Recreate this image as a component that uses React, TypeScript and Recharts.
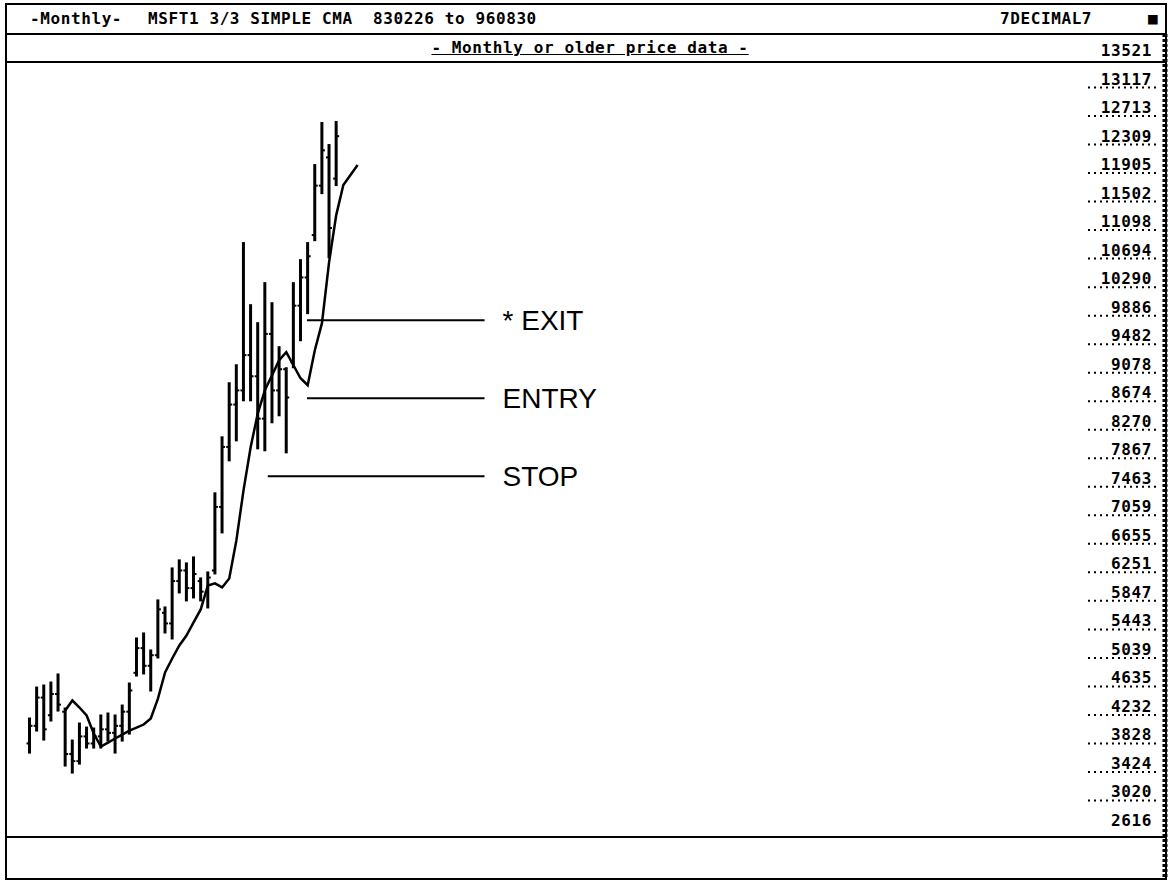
import React from 'react'
import { ComposedChart, Bar, Line, XAxis, YAxis, ReferenceLine } from 'recharts'

// monthly bars, index = month number on the chart
const highs = [
  4053, 4492, 4521, 4563, 4677, 4195, 3741, 3982, 3925, 3911, 4096, 4124, 4096, 4237, 4549,
  5187, 5258, 5017, 5726, 5626, 6179, 6293, 6250, 6335, 6037, 6122, 7242, 8036, 8801, 9056,
  10786, 9907, 9652, 10219, 9935, 9312, 9014, 10219, 10545, 10786, 11891, 12487, 12175, 12501,
]
const lows = [
  3571, 3883, 3755, 4025, 4166, 3387, 3288, 3415, 3642, 3642, 3642, 3741, 3571, 3741, 3840,
  4662, 4691, 4450, 4918, 5272, 5187, 5839, 5726, 5768, 5726, 5626, 6108, 6689, 7710, 7993,
  8560, 8560, 7880, 7852, 8249, 8348, 7823, 9028, 9411, 9794, 10828, 11494, 10587, 11608,
]
const opens = [
  3700, 3950, 4350, 4100, 4400, 4150, 3550, 3450, 3800, 3700, 3800, 3900, 3850, 3950, 4150,
  4700, 5050, 4800, 4950, 5550, 5400, 6000, 6150, 5900, 6000, 5850, 6150, 7050, 7900, 8500,
  8700, 9200, 8900, 8300, 9500, 8700, 9000, 9100, 9900, 10300, 10900, 11600, 12000, 11700,
]
const closes = [
  3950, 4350, 3900, 4400, 4250, 3550, 3450, 3800, 3700, 3800, 3900, 3850, 3950, 4150, 4450,
  5050, 4800, 4950, 5600, 5400, 6000, 6150, 5900, 6100, 5850, 6050, 7050, 7900, 8500, 8700,
  9200, 8900, 8300, 9500, 8700, 9000, 8600, 9900, 10300, 10600, 11600, 12100, 11000, 12300,
]
// 3/3 simple moving average (displaced 3 months forward)
const movingAvg: (number | null)[] = [
  null, null, null, null, null, 4166, 4308, 4209, 4096, 3840, 3656, 3713, 3770, 3826, 3883,
  3925, 3968, 4053, 4336, 4705, 4903, 5088, 5229, 5414, 5598, 5938, 5967, 5910, 6037, 6576,
  7285, 7894, 8376, 8702, 8915, 9127, 9241, 9056, 8872, 8773, 9269, 9652, 10516, 11183, 11608,
  11750, 11891,
]
const yTicks = [
  13521, 13117, 12713, 12309, 11905, 11502, 11098, 10694, 10290, 9886, 9482, 9078, 8674, 8270,
  7867, 7463, 7059, 6655, 6251, 5847, 5443, 5039, 4635, 4232, 3828, 3424, 3020, 2616,
]
const Y_MIN = 2616
const Y_MAX = 13521

const EXIT_LEVEL = 9694
const ENTRY_LEVEL = 8589
const STOP_LEVEL = 7483

const data = movingAvg.map((ma, i) => ({
  month: i,
  range: i < highs.length ? [lows[i], highs[i]] : null,
  open: opens[i],
  close: closes[i],
  ma,
}))

const OhlcShape = (props: any) => {
  const { x, y, width, height, payload } = props
  if (!payload || payload.range == null) return null
  const [lo, hi] = payload.range
  const cx = x + width / 2
  const toY = (v: number) => y + ((hi - v) / (hi - lo || 1)) * height
  return (
    <g stroke="#000" strokeWidth={3}>
      <line x1={cx} y1={y - 1} x2={cx} y2={y + height + 1} />
      <line x1={cx - 3} y1={toY(payload.open)} x2={cx} y2={toY(payload.open)} strokeWidth={2} />
      <line x1={cx} y1={toY(payload.close)} x2={cx + 3} y2={toY(payload.close)} strokeWidth={2} />
    </g>
  )
}

const PriceTick = (props: any) => {
  const { x, y, payload } = props
  const edge = payload.value === Y_MAX || payload.value === Y_MIN
  return (
    <g>
      {!edge && (
        <line x1={x - 2} y1={y + 9} x2={x + 66} y2={y + 9} stroke="#000" strokeWidth={2} strokeDasharray="2 4" />
      )}
      <text
        x={x + 62}
        y={y + 6}
        textAnchor="end"
        fontFamily="DejaVu Sans Mono"
        fontWeight="bold"
        fontSize={16}
        letterSpacing={0.6}
        fill="#000"
      >
        {payload.value}
      </text>
    </g>
  )
}

const mono: React.CSSProperties = {
  position: 'absolute',
  fontFamily: 'DejaVu Sans Mono',
  fontWeight: 'bold',
  fontSize: 16,
  letterSpacing: 0.6,
  lineHeight: '20px',
  whiteSpace: 'pre',
  color: '#000',
}

const annoLabel = (value: string) => ({
  value,
  position: 'right' as const,
  offset: 18,
  fill: '#000',
  fontSize: 28,
  fontFamily: 'Liberation Sans',
})

export default function App() {
  return (
    <div style={{ position: 'absolute', left: 0, top: 0, width: 1171, height: 883, background: '#fff', overflow: 'hidden' }}>
      <ComposedChart
        width={1171}
        height={883}
        data={data}
        margin={{ top: 50, right: 7, bottom: 63, left: 26 }}
      >
        <XAxis dataKey="month" type="number" domain={[-0.5, 148.7]} hide />
        <YAxis
          orientation="right"
          width={74}
          domain={[Y_MIN, Y_MAX]}
          ticks={yTicks}
          interval={0}
          axisLine={false}
          tickLine={false}
          tickSize={0}
          tickMargin={0}
          tick={<PriceTick />}
          allowDataOverflow
        />
        <Bar dataKey="range" barSize={5} shape={<OhlcShape />} isAnimationActive={false} />
        <Line
          dataKey="ma"
          type="linear"
          stroke="#000"
          strokeWidth={2.5}
          dot={false}
          isAnimationActive={false}
        />
        <ReferenceLine
          segment={[{ x: 38.9, y: EXIT_LEVEL }, { x: 63.8, y: EXIT_LEVEL }]}
          stroke="#000"
          strokeWidth={2}
          ifOverflow="visible"
          label={annoLabel('* EXIT')}
        />
        <ReferenceLine
          segment={[{ x: 38.9, y: ENTRY_LEVEL }, { x: 63.8, y: ENTRY_LEVEL }]}
          stroke="#000"
          strokeWidth={2}
          ifOverflow="visible"
          label={annoLabel('ENTRY')}
        />
        <ReferenceLine
          segment={[{ x: 33.4, y: STOP_LEVEL }, { x: 63.8, y: STOP_LEVEL }]}
          stroke="#000"
          strokeWidth={2}
          ifOverflow="visible"
          label={annoLabel('STOP')}
        />
      </ComposedChart>

      {/* screen frame */}
      <svg width={1171} height={883} style={{ position: 'absolute', left: 0, top: 0, pointerEvents: 'none' }}>
        <rect x={6} y={4} width={1160} height={875} fill="none" stroke="#000" strokeWidth={2} />
        <line x1={6} y1={34} x2={1166} y2={34} stroke="#000" strokeWidth={2} />
        <line x1={6} y1={62} x2={1166} y2={62} stroke="#000" strokeWidth={2} />
        <line x1={6} y1={837} x2={1166} y2={837} stroke="#000" strokeWidth={2} />
        <line x1={1165} y1={34} x2={1165} y2={879} stroke="#000" strokeWidth={5} strokeDasharray="3 2" />
      </svg>
      <div style={{ ...mono, left: 30, top: 9 }}>-Monthly-</div>
      <div style={{ ...mono, left: 148, top: 9 }}>MSFT1 3/3 SIMPLE CMA  830226 to 960830</div>
      <div style={{ ...mono, left: 1000, top: 9 }}>7DECIMAL7</div>
      <div style={{ ...mono, left: 1148, top: 9 }}>■</div>
      <div style={{ ...mono, left: 0, width: 1180, textAlign: 'center', top: 38, textDecoration: 'underline' }}>
        - Monthly or older price data -
      </div>
    </div>
  )
}
